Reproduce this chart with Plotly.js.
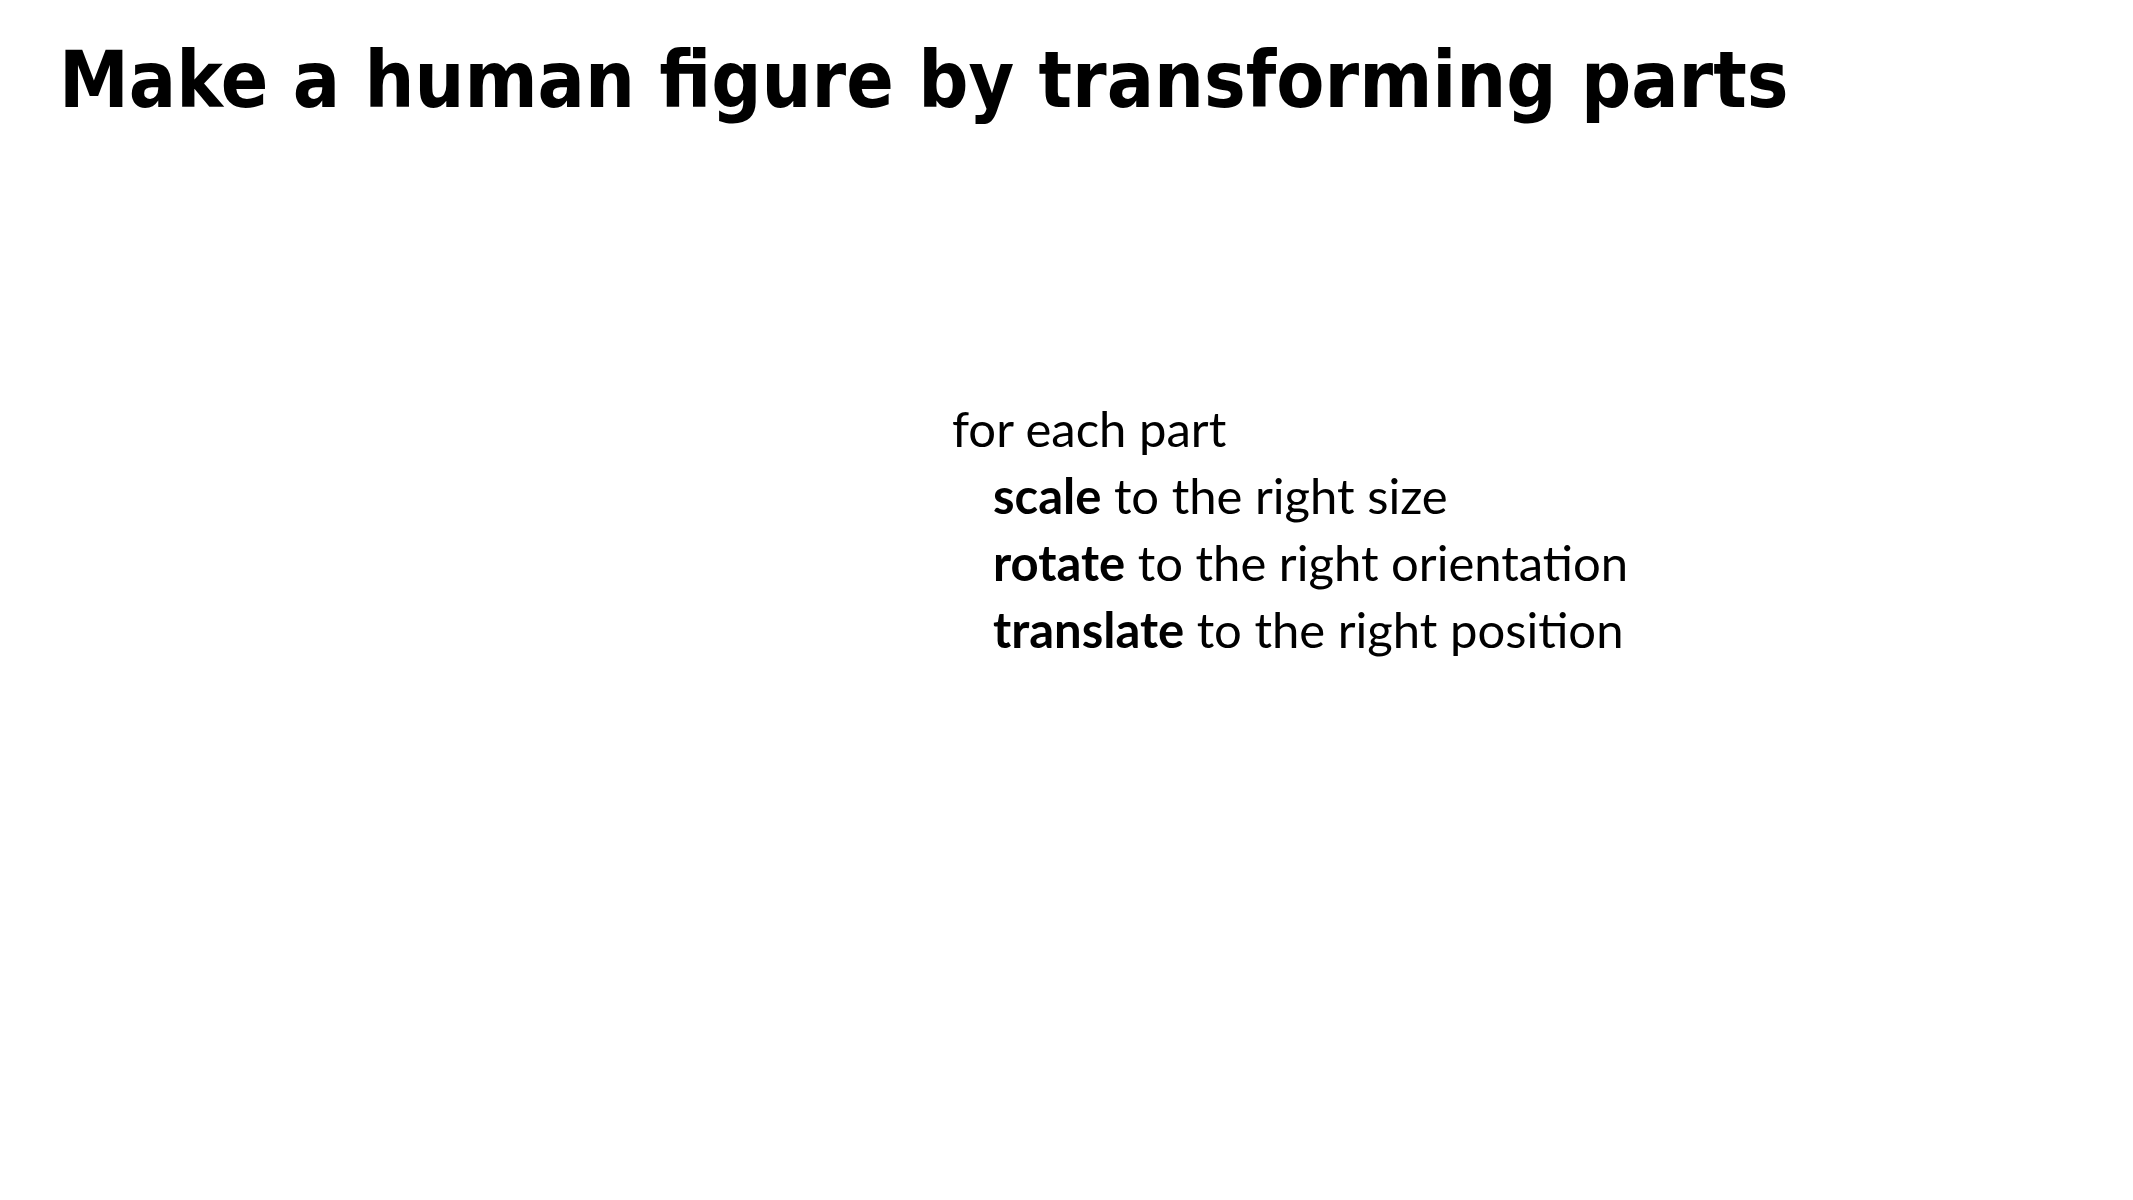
<!DOCTYPE html>
<html><head><meta charset="utf-8">
<script src="https://cdn.plot.ly/plotly-3.0.1.min.js"></script>
<style>html,body{margin:0;padding:0;background:#fff}</style>
</head><body><div id="chart" style="width:2133px;height:1200px"></div>
<script>
const titleText = "Make a human figure by transforming parts";
const loopLine = "for each part";
const verbs = ["scale", "rotate", "translate"];
const targets = ["to the right size", "to the right orientation", "to the right position"];

const W = 2133, H = 1200;
const ann = [];
ann.push({text: "<b>" + titleText + "</b>", xref: "paper", yref: "paper",
  x: 57 / W, y: 1 - 80 / H, xanchor: "left", yanchor: "middle", showarrow: false,
  font: {family: "DejaVu Sans Condensed, Liberation Sans Narrow, sans-serif", size: 78, color: "#000"}});
ann.push({text: loopLine, xref: "paper", yref: "paper",
  x: 950 / W, y: 1 - 428 / H, xanchor: "left", yanchor: "middle", showarrow: false,
  font: {family: "Lato, Noto Sans, sans-serif", size: 49, color: "#000"}});
verbs.forEach((v, i) => {
  ann.push({text: "<b>" + v + "</b> " + targets[i], xref: "paper", yref: "paper",
    x: 991 / W, y: 1 - (495 + 67 * i) / H, xanchor: "left", yanchor: "middle", showarrow: false,
    font: {family: "Lato, Noto Sans, sans-serif", size: 49, color: "#000"}});
});

Plotly.newPlot("chart", [], {
  width: W, height: H, margin: {l: 0, r: 0, t: 0, b: 0},
  paper_bgcolor: "#fff", plot_bgcolor: "#fff",
  xaxis: {visible: false}, yaxis: {visible: false},
  annotations: ann, showlegend: false
}, {staticPlot: true});
</script></body></html>
